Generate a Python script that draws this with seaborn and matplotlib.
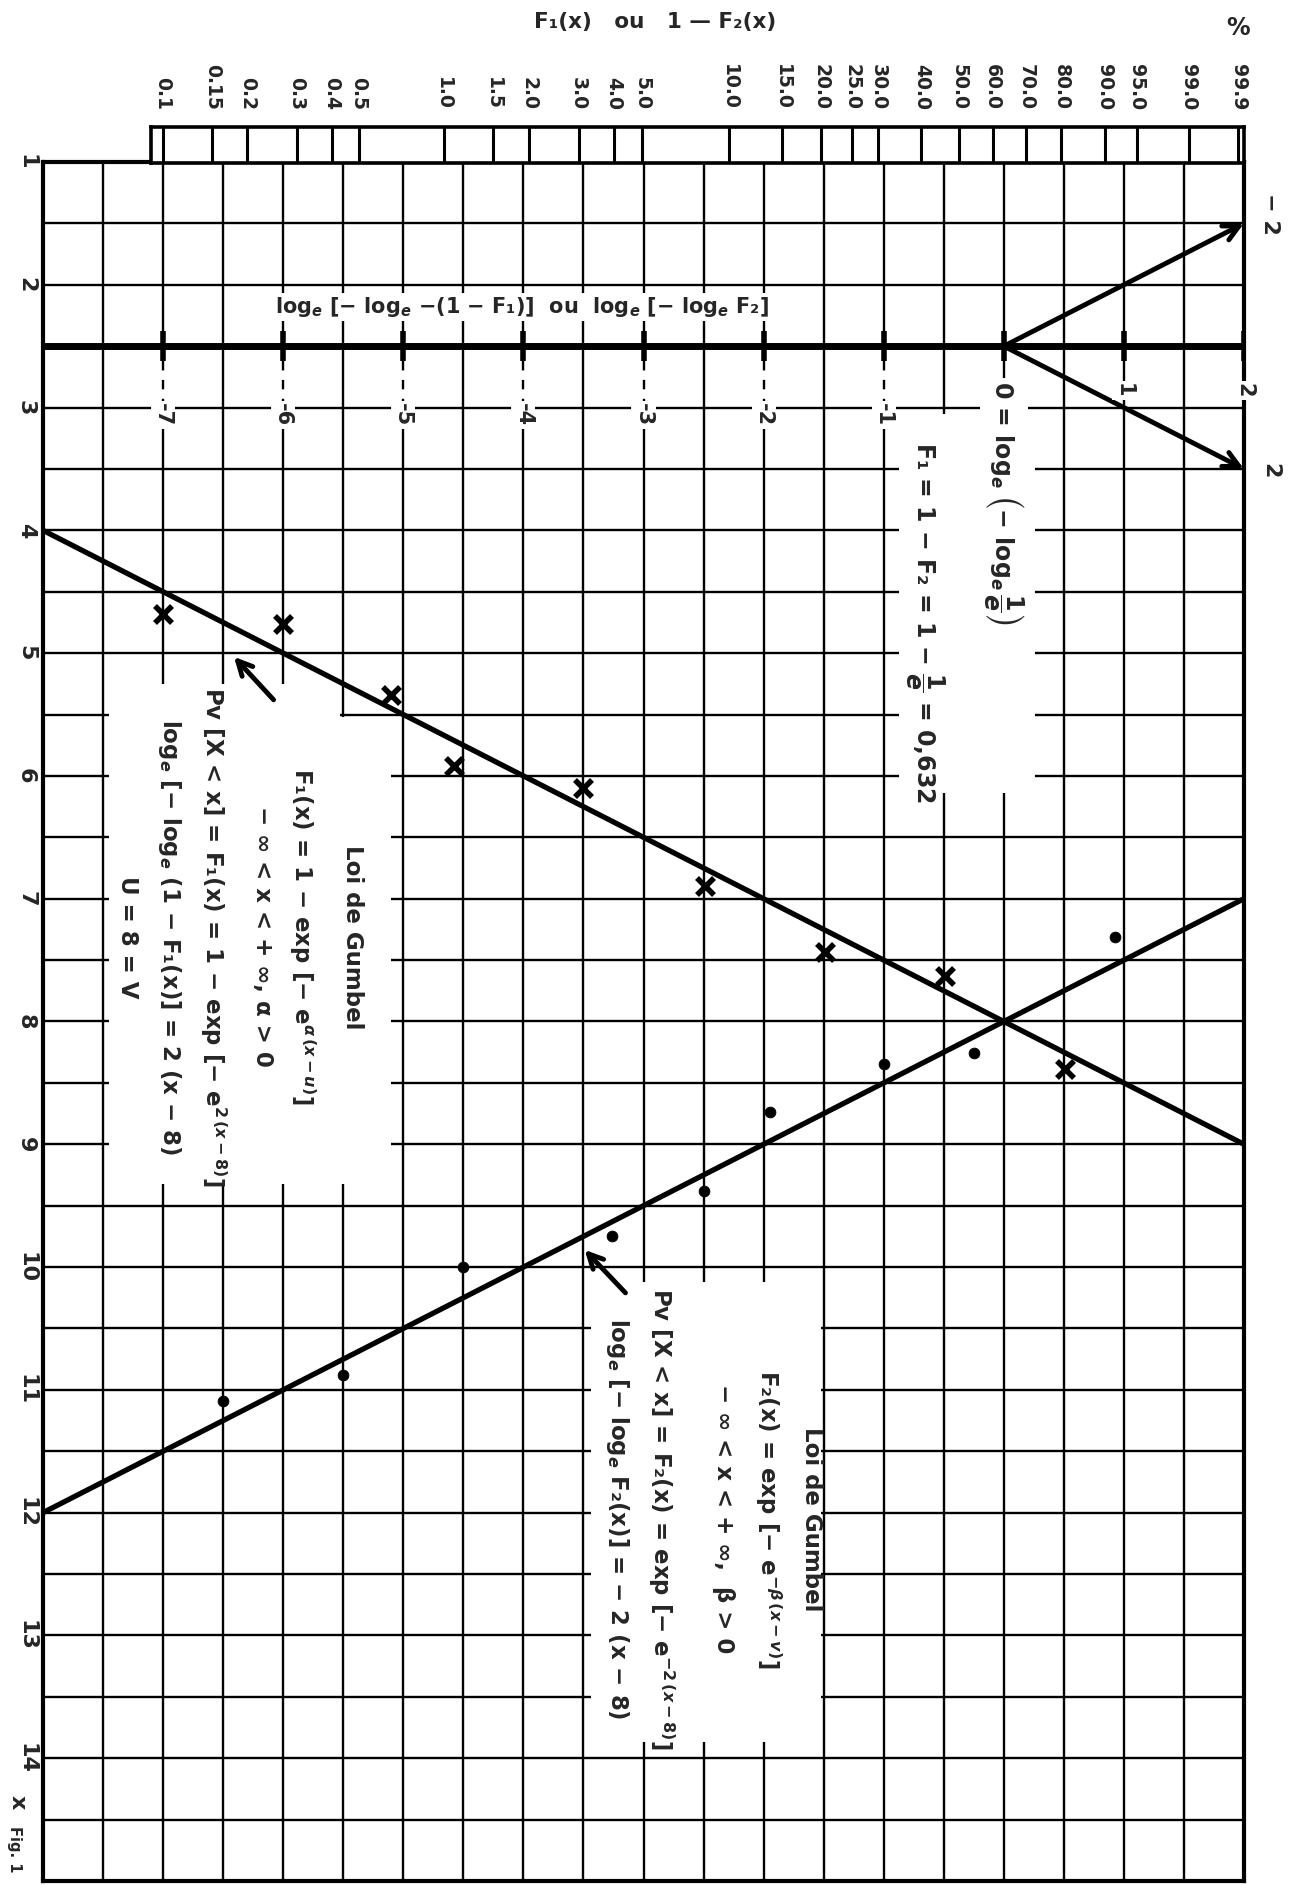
import numpy as np
import matplotlib
matplotlib.use("Agg")
import matplotlib.pyplot as plt
from matplotlib.patches import Rectangle
import seaborn as sns

# page is turned a quarter: reduced variable runs across, x runs down
f1_y = [-7.0, -6.0, -5.10, -4.58, -3.5, -2.49, -1.49, -0.49, 0.51]
f1_x = [4.68, 4.76, 5.34, 5.92, 6.10, 6.90, 7.43, 7.63, 8.39]
f2_y = [0.93, -0.25, -1.0, -1.95, -2.5, -3.26, -4.5, -5.5, -6.5]
f2_x = [7.31, 8.26, 8.35, 8.74, 9.38, 9.75, 10.0, 10.88, 11.09]

# fitted lines  y = 2(x - 8)  and  y = -2(x - 8)
line1_x = [4, 9]
line1_y = [-8, 2]
line2_x = [7, 12]
line2_y = [2, -8]

pct_values = [0.1, 0.15, 0.2, 0.3, 0.4, 0.5, 1.0, 1.5, 2.0, 3.0, 4.0, 5.0,
              10.0, 15.0, 20.0, 25.0, 30.0, 40.0, 50.0, 60.0, 70.0, 80.0,
              90.0, 95.0, 99.0, 99.9]
pct_labels = ["0.1", "0.15", "0.2", "0.3", "0.4", "0.5", "1.0", "1.5", "2.0",
              "3.0", "4.0", "5.0", "10.0", "15.0", "20.0", "25.0", "30.0",
              "40.0", "50.0", "60.0", "70.0", "80.0", "90.0", "95.0", "99.0",
              "99.9"]
x_ticks = list(range(1, 15))
x_labels = [str(v) for v in x_ticks]
reduced_ticks = [-7, -6, -5, -4, -3, -2, -1, 0, 1, 2]

sns.set_theme(style="white")
plt.rcParams["font.family"] = ["DejaVu Sans"]
plt.rcParams["font.weight"] = "bold"
plt.rcParams["mathtext.fontset"] = "dejavusans"

W, H = 1289, 1885
fig = plt.figure(figsize=(W / 100, H / 100), dpi=100)
ax_left, ax_w = 43 / W, 1201 / W
ax_top_px, ax_bot_px = 162, 1881
ax = fig.add_axes([ax_left, 1 - ax_bot_px / H, ax_w, (ax_bot_px - ax_top_px) / H])
ax.set_xlim(-8, 2)
ax.set_ylim(15, 1)

# grid
ax.set_xticks(np.arange(-7.5, 2.0, 0.5))
ax.set_xticklabels([])
ax.set_yticks(x_ticks)
ax.set_yticklabels(x_labels, rotation=270, va="center")
ax.set_yticks(np.arange(1.5, 15, 0.5), minor=True)
ax.tick_params(axis="both", which="both", length=0)
ax.tick_params(axis="y", pad=5, labelsize=16)
ax.grid(True, which="both", color="black", lw=1.7)
ax.set_axisbelow(True)
for sp in ax.spines.values():
    sp.set_color("black")
    sp.set_linewidth(3)
ax.text(-0.013, 14.36, "x", transform=ax.get_yaxis_transform(), rotation=270,
        ha="right", va="center", fontsize=16)

# white blanks behind the text blocks
blanks = [((-0.87, 3.05), 1.13, 3.09),
          ((-7.45, 5.25), 1.92, 4.07),
          ((-5.53, 5.52), 0.43, 3.80),
          ((-3.44, 10.12), 1.92, 3.75)]
for (xy, w, h) in blanks:
    ax.add_patch(Rectangle(xy, w, h, facecolor="white", edgecolor="none", zorder=1))

# reduced variable axis
ax.axhline(2.5, color="black", lw=5, zorder=3)
ax.vlines(reduced_ticks, 2.38, 2.62, color="black", lw=4, zorder=3)
neg = [t for t in reduced_ticks if t < 0]
ax.vlines(neg, 2.62, 2.97, color="white", lw=3, zorder=1.5)
ax.vlines(neg, 2.62, 2.95, color="black", lw=1.7, linestyles=(0, (4, 4)), zorder=2)
wb = dict(facecolor="white", edgecolor="none", pad=1.5)
for t in neg:
    ax.text(t, 3.06, f"-{abs(t)}", rotation=270, ha="center", va="center",
            fontsize=15, bbox=wb, zorder=5)
for t in [1, 2]:
    ax.text(t, 2.86, str(t), rotation=270, ha="center", va="center",
            fontsize=15, bbox=wb, zorder=5)
ax.text(0, 2.78, r"0 = log$_e$ $\left(-\ \log_e \dfrac{1}{e}\right)$", rotation=270,
        ha="center", va="top", fontsize=17, bbox=wb, zorder=5)
ax.text(-0.66, 3.28, r"F₁ = 1 − F₂ = 1 − $\dfrac{1}{e}$ = 0,632", rotation=270,
        ha="center", va="top", fontsize=17, zorder=5)
ax.text(-4.01, 2.18, r"log$_e$ [− log$_e$ −(1 − F₁)]  ou  log$_e$ [− log$_e$ F₂]",
        ha="center", va="center", fontsize=15, bbox=wb, zorder=5)

# slope arrows
for end in [1.5, 3.5]:
    ax.annotate("", xy=(2, end), xytext=(0, 2.5),
                arrowprops=dict(arrowstyle="->", lw=3.5, color="black",
                                mutation_scale=28, shrinkA=0, shrinkB=0),
                zorder=4)
ax.text(2.22, 1.42, "− 2", rotation=270, ha="center", va="center", fontsize=16)
ax.text(2.22, 3.51, "2", rotation=270, ha="center", va="center", fontsize=16)

# lines and observations
sns.lineplot(x=line1_y, y=line1_x, color="black", lw=3.8, sort=False,
             estimator=None, ax=ax, zorder=3)
sns.lineplot(x=line2_y, y=line2_x, color="black", lw=3.8, sort=False,
             estimator=None, ax=ax, zorder=3)
ax.set_xlim(-8, 2)
ax.set_ylim(15, 1)
ax.set_xlabel("")
ax.set_ylabel("")
sns.scatterplot(x=f1_y, y=f1_x, marker="x", s=150, linewidth=4, color="black",
                ax=ax, zorder=4)
sns.scatterplot(x=f2_y, y=f2_x, marker="o", s=60, color="black",
                edgecolor="black", ax=ax, zorder=4)

# text blocks
left_lines = ["Loi de Gumbel",
              r"F₁(x) = 1 − exp [− e$^{\alpha\,(x-u)}$]",
              "− ∞ < x < + ∞, α > 0",
              r"Pv [X < x] = F₁(x) = 1 − exp [− e$^{2\,(x-8)}$]",
              r"log$_e$ [− log$_e$ (1 − F₁(x)] = 2 (x − 8)",
              "U = 8 = V"]
left_cols = [-5.42, -5.84, -6.17, -6.58, -6.95, -7.30]
for s, c in zip(left_lines, left_cols):
    ax.text(c, 7.31, s, rotation=270, ha="center", va="center", fontsize=16.5, zorder=5)

right_lines = ["Loi de Gumbel",
               r"F₂(x) = exp [− e$^{-\beta\,(x-v)}$]",
               "− ∞ < x < + ∞,  β > 0",
               r"Pv [X < x] = F₂(x) = exp [− e$^{-2\,(x-8)}$]",
               r"log$_e$ [− log$_e$ F₂(x)] = − 2 (x − 8)"]
right_cols = [-1.60, -1.96, -2.33, -2.85, -3.22]
for s, c in zip(right_lines, right_cols):
    ax.text(c, 12.05, s, rotation=270, ha="center", va="center", fontsize=16.5, zorder=5)

# pointers from the formulas to the lines
ax.annotate("", xy=(-6.41, 5.03), xytext=(-6.08, 5.38),
            arrowprops=dict(arrowstyle="->", lw=3.5, color="black",
                            mutation_scale=26, shrinkA=0, shrinkB=0), zorder=5)
ax.annotate("", xy=(-3.49, 9.86), xytext=(-3.15, 10.21),
            arrowprops=dict(arrowstyle="->", lw=3.5, color="black",
                            mutation_scale=26, shrinkA=0, shrinkB=0), zorder=5)


# percentage strip on top, gumbel probability scale
def fwd(p):
    p = np.clip(np.asarray(p, dtype=float), 1e-9, 100 - 1e-9)
    return np.log(-np.log(1 - p / 100))


def inv(y):
    return 100 * (1 - np.exp(-np.exp(np.asarray(y, dtype=float))))


s_left, s_right = -7.10, 2.0
stretch, shift = 1.0128, -0.005
sx = ax_left + (s_left + 8) / 10 * ax_w
sw = (s_right - s_left) / 10 * ax_w
ax_s = fig.add_axes([sx, 1 - 163.5 / H, sw, 36.5 / H])
ax_s.set_xscale("function", functions=(fwd, inv))
ax_s.set_xlim(inv((s_left - shift) / stretch), inv((s_right - shift) / stretch))
ax_s.set_ylim(0, 1)
ax_s.set_yticks([])
ax_s.set_xticks(pct_values)
ax_s.set_xticklabels(pct_labels)
ax_s.xaxis.set_minor_locator(matplotlib.ticker.NullLocator())
ax_s.tick_params(axis="x", top=True, bottom=False, labeltop=True, labelbottom=False,
                 length=0, pad=12, labelrotation=270, labelsize=13.5)
ax_s.grid(True, axis="x", color="black", lw=2.2)
for sp in ax_s.spines.values():
    sp.set_color("black")
    sp.set_linewidth(2.6)

fig.text(655 / W, 1 - 22 / H, "F₁(x)   ou   1 — F₂(x)", ha="center", va="center",
         fontsize=15.5)
fig.text(1238 / W, 1 - 28 / H, "%", ha="center", va="center", fontsize=17)
fig.text(14 / W, 1 - 1826 / H, "Fig. 1", rotation=270, ha="center", va="top",
         fontsize=10.5)

fig.savefig("out.png", dpi=100)
